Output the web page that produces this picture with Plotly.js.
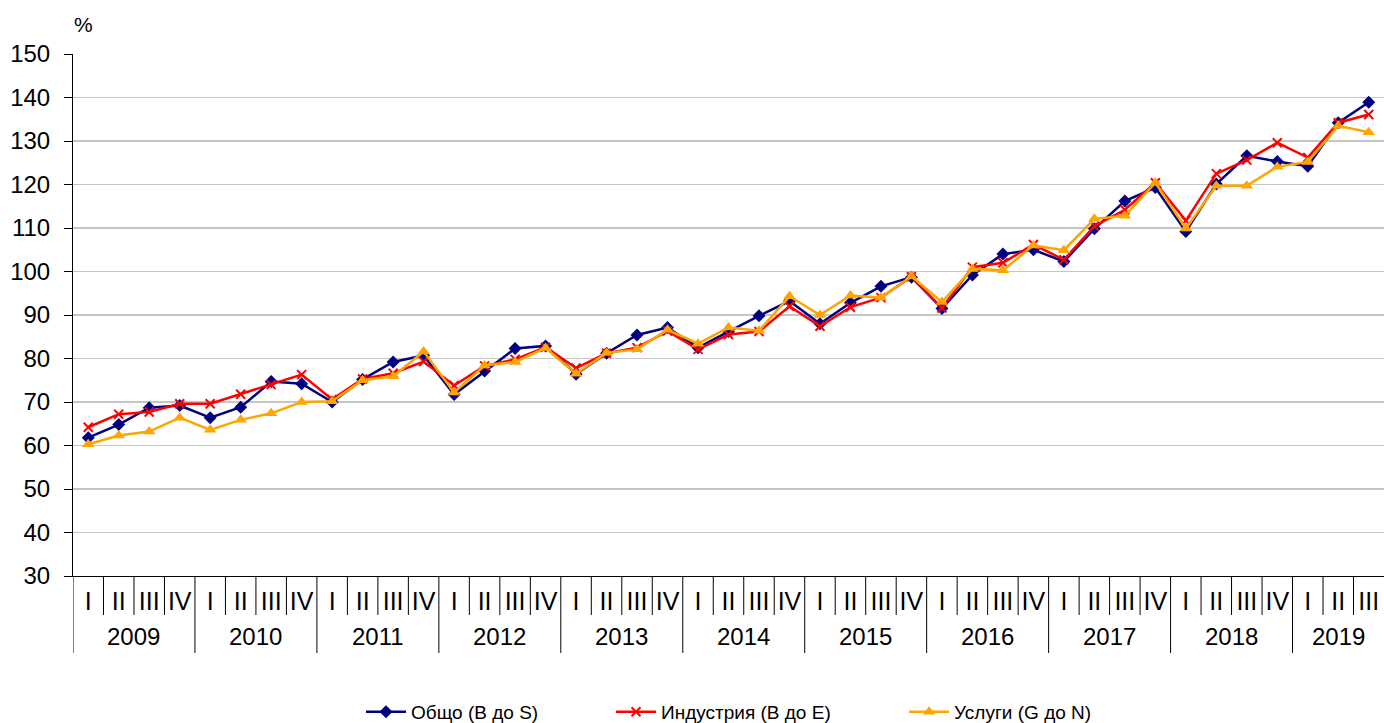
<!DOCTYPE html>
<html>
<head>
<meta charset="utf-8">
<script src="https://cdn.plot.ly/plotly-3.0.1.min.js"></script>
<style>
html,body{margin:0;padding:0;background:#fff;}
#chart{width:1384px;height:723px;}
</style>
</head>
<body>
<div id="chart"></div>
<script>
// Categories
const years = ['2009','2010','2011','2012','2013','2014','2015','2016','2017','2018','2019'];
const quartersPerYear = [4,4,4,4,4,4,4,4,4,4,3];
const quarterLabels = [
  'I','II','III','IV', 'I','II','III','IV', 'I','II','III','IV', 'I','II','III','IV',
  'I','II','III','IV', 'I','II','III','IV', 'I','II','III','IV', 'I','II','III','IV',
  'I','II','III','IV', 'I','II','III','IV', 'I','II','III'
];

// Series values (%)
const total = [61.8,64.8,68.7,69.2,66.4,68.8,74.7,74.2,70.0,75.2,
               79.2,80.7,71.7,77.1,82.3,82.9,76.4,81.2,85.4,87.1,
               82.5,86.2,89.8,93.2,88.0,92.8,96.6,98.7,91.5,99.2,
               104.0,105.0,102.3,109.8,116.2,119.3,109.2,120.1,126.6,125.3,
               124.2,134.2,138.9];
const industry = [64.2,67.2,67.7,69.6,69.6,71.8,74.0,76.3,70.6,75.3,
                  76.6,79.3,73.8,78.3,79.8,82.6,77.8,81.2,82.5,86.3,
                  82.1,85.5,86.2,92.0,87.4,91.8,94.0,98.8,91.6,101.0,
                  102.0,106.2,102.7,110.4,114.2,120.4,111.7,122.5,125.6,129.6,
                  126.2,134.2,136.1];
const services = [60.3,62.3,63.2,66.4,63.6,65.9,67.4,70.0,70.2,75.0,
                  75.9,81.6,72.2,78.4,79.2,82.4,76.5,81.3,82.1,86.6,
                  83.4,87.1,86.4,94.3,90.0,94.5,94.0,98.9,93.0,100.6,
                  100.3,106.0,104.9,112.1,112.8,120.4,109.9,119.7,119.7,124.1,
                  125.2,133.5,132.0];

const seriesNames = ['Общо (B до S)', 'Индустрия (B до E)', 'Услуги (G до N)'];
const yTicks = [30,40,50,60,70,80,90,100,110,120,130,140,150];

const xIdx = quarterLabels.map((_, i) => i);
const FONT = 'Liberation Sans, Arial, sans-serif';

const traces = [
  {x: xIdx, y: total, name: seriesNames[0], type: 'scatter', mode: 'lines+markers',
   line: {color: '#000080', width: 2.5}, marker: {symbol: 'diamond', size: 10, color: '#000080'},
   legend: 'legend'},
  {x: xIdx, y: industry, name: seriesNames[1], type: 'scatter', mode: 'lines+markers',
   line: {color: '#FF0000', width: 2.5}, marker: {symbol: 'x-thin-open', size: 9, color: '#FF0000', line: {color: '#FF0000', width: 2}},
   legend: 'legend2'},
  {x: xIdx, y: services, name: seriesNames[2], type: 'scatter', mode: 'lines+markers',
   line: {color: '#FFA500', width: 2.5}, marker: {symbol: 'triangle-up', size: 11, color: '#FFA500'},
   legend: 'legend3'}
];

// Divider lines below the x axis and year labels
const shapes = [];
const annotations = [];
let start = 0;
shapes.push({type: 'line', xref: 'x', yref: 'paper', x0: -0.5, x1: -0.5, y0: 0, y1: -0.1475, line: {color: '#000', width: 1}});
years.forEach((yr, k) => {
  const n = quartersPerYear[k];
  for (let q = 1; q <= n; q++) {
    const b = start + q - 0.5;
    if (b > quarterLabels.length - 1) continue;
    const isYearEnd = (q === n);
    shapes.push({type: 'line', xref: 'x', yref: 'paper', x0: b, x1: b, y0: 0,
                 y1: isYearEnd ? -0.1475 : -0.0747, line: {color: '#000', width: 1}});
  }
  annotations.push({xref: 'x', yref: 'paper', x: start + (n - 1) / 2, y: -0.115,
                    text: yr, showarrow: false, xanchor: 'center', yanchor: 'middle',
                    font: {family: FONT, size: 24, color: '#000'}});
  start += n;
});
annotations.push({xref: 'paper', yref: 'paper', x: -0.001, y: 1.0556, text: '%', showarrow: false,
                  xanchor: 'left', yanchor: 'middle', font: {family: FONT, size: 21, color: '#000'}});

const legendBase = {orientation: 'h', yref: 'paper', y: -0.2969, yanchor: 'bottom', xanchor: 'left',
                    itemwidth: 40, bgcolor: 'rgba(0,0,0,0)', borderwidth: 0,
                    font: {family: FONT, size: 19, color: '#000'}};

const layout = {
  width: 1384, height: 723,
  margin: {l: 73, r: 0, t: 54, b: 147, autoexpand: false},
  paper_bgcolor: '#fff', plot_bgcolor: '#fff',
  font: {family: FONT, color: '#000'},
  showlegend: true,
  legend: Object.assign({}, legendBase, {x: 0.2197}),
  legend2: Object.assign({}, legendBase, {x: 0.4104}),
  legend3: Object.assign({}, legendBase, {x: 0.6339}),
  xaxis: {
    range: [-0.5, 42.5], tickmode: 'array', tickvals: xIdx, ticktext: quarterLabels,
    showgrid: false, zeroline: false, showline: true, linecolor: '#000', linewidth: 1,
    ticks: '', tickfont: {family: FONT, size: 25, color: '#000'}, ticklabelstandoff: 3,
    ticklabeloverflow: 'allow', automargin: false, fixedrange: true
  },
  yaxis: {
    range: [30, 150], tickmode: 'array', tickvals: yTicks,
    showgrid: true, gridcolor: '#c6c6c6', gridwidth: 1.5, zeroline: false,
    showline: true, linecolor: '#000', linewidth: 1,
    ticks: 'outside', ticklen: 8, tickcolor: '#000', tickwidth: 1, automargin: false,
    tickfont: {family: FONT, size: 24, color: '#000'}, ticklabelstandoff: 9
  },
  shapes: shapes,
  annotations: annotations
};

Plotly.newPlot('chart', traces, layout, {displayModeBar: false, staticPlot: true});
</script>
</body>
</html>
